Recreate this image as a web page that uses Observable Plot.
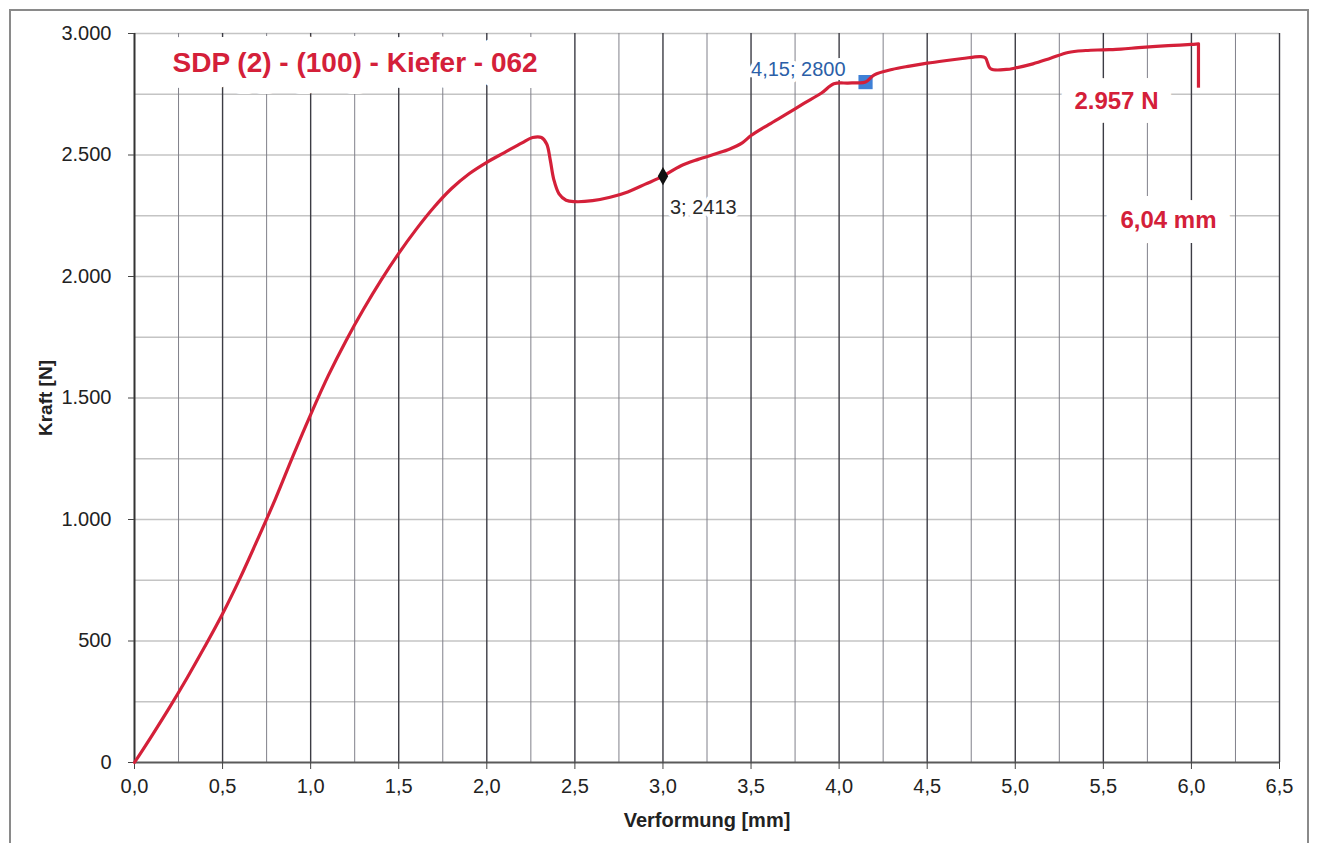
<!DOCTYPE html>
<html lang="de">
<head>
<meta charset="utf-8">
<script src="https://cdn.jsdelivr.net/npm/d3@7"></script>
<script src="https://cdn.jsdelivr.net/npm/@observablehq/plot@0.6"></script>
<style>
  html, body { margin: 0; padding: 0; background: #fff; }
  #page { position: relative; width: 1320px; height: 843px; overflow: hidden; }
  #frame { position: absolute; left: 9px; top: 9px; width: 1300px; height: 900px;
           border: 2px solid #8a8a8a; box-sizing: border-box; }
  #chart { position: absolute; left: 0; top: 0; }
</style>
</head>
<body>
<div id="page">
  <div id="frame"></div>
  <div id="chart"></div>
</div>
<script>
// Kraft-Verformungs-Kurve, Probe SDP (2) - (100) - Kiefer - 062
const title = "SDP (2) - (100) - Kiefer - 062";
const xLabel = "Verformung [mm]";
const yLabel = "Kraft [N]";

// Messkurve: Verformung [mm] und Kraft [N]
const deformation = [0, 0.1, 0.2, 0.3, 0.4, 0.5, 0.6, 0.7, 0.8, 0.9, 1.0, 1.1, 1.2, 1.3, 1.4,
  1.5, 1.6, 1.7, 1.8, 1.9, 2.0, 2.1, 2.2, 2.26, 2.31, 2.34, 2.36, 2.38, 2.41, 2.45, 2.5,
  2.6, 2.7, 2.8, 2.9, 3.0, 3.1, 3.2, 3.3, 3.38, 3.45, 3.5, 3.6, 3.7, 3.8, 3.9, 3.97, 4.05,
  4.1, 4.15, 4.2, 4.3, 4.4, 4.5, 4.6, 4.7, 4.8, 4.83, 4.86, 4.95, 5.0, 5.1, 5.2, 5.3, 5.4,
  5.5, 5.6, 5.7, 5.8, 5.9, 6.0];
const force = [0, 112, 228, 350, 478, 612, 760, 920, 1085, 1262, 1432, 1592, 1735, 1865, 1985,
  2095, 2195, 2285, 2362, 2423, 2470, 2510, 2550, 2572, 2572, 2545, 2480, 2400, 2340, 2314, 2308,
  2312, 2326, 2348, 2380, 2413, 2455, 2482, 2505, 2525, 2550, 2580, 2625, 2668, 2712, 2755, 2793, 2796,
  2797, 2800, 2830, 2852, 2866, 2878, 2888, 2897, 2905, 2900, 2855, 2852, 2858, 2875, 2898, 2922, 2930,
  2933, 2936, 2942, 2947, 2951, 2955];

// Bruch: Höchstkraft und Verformung beim Bruch, danach Kraftabfall
const maxForce = 2957;
const breakDeformation = 6.04;
const forceAfterBreak = 2775;

// markierte Messpunkte
const pointA = {x: 3, y: 2413};
const pointB = {x: 4.15, y: 2800};

// Achsen und Raster
const xTicks = [0, 0.5, 1, 1.5, 2, 2.5, 3, 3.5, 4, 4.5, 5, 5.5, 6, 6.5];
const xMinorGrid = [0.25, 0.75, 1.25, 1.75, 2.25, 2.75, 3.25, 3.75, 4.25, 4.75, 5.25, 5.75, 6.25];
const yTicks = [0, 500, 1000, 1500, 2000, 2500, 3000];
const yGrid = [250, 500, 750, 1000, 1250, 1500, 1750, 2000, 2250, 2500, 2750, 3000];

const de = d3.formatLocale({decimal: ",", thousands: ".", grouping: [3], currency: ["", " €"]});
const fmtInt = de.format(",d");
const fmtDec = (d, n) => de.format(`.${n}f`)(d);

const curve = deformation.map((x, i) => ({x, y: force[i]}));
curve.push({x: breakDeformation, y: maxForce});

const red = "#d42039";
const font = "'Liberation Sans', Arial, sans-serif";

const chart = Plot.plot({
  width: 1320,
  height: 843,
  marginLeft: 134,
  marginRight: 41,
  marginTop: 33,
  marginBottom: 81,
  x: {domain: [0, 6.5]},
  y: {domain: [0, 3000]},
  style: {fontFamily: font, fontSize: "20px", color: "#222", background: "transparent", overflow: "visible"},
  marks: [
    Plot.gridY(yGrid, {stroke: "#c4c4c4", strokeOpacity: 1, strokeWidth: 1.6}),
    Plot.gridX(xMinorGrid, {stroke: "#80808a", strokeOpacity: 1, strokeWidth: 1}),
    Plot.gridX(xTicks.slice(1), {stroke: "#3c3c44", strokeOpacity: 1, strokeWidth: 1.4}),
    Plot.ruleY([0], {stroke: "#5a5a5a", strokeWidth: 2}),
    Plot.ruleX([0], {stroke: "#333", strokeWidth: 2}),
    Plot.axisX(xTicks, {tickFormat: d => fmtDec(d, 1), tickSize: 7, tickPadding: 9,
      label: null, fontSize: 20, stroke: "#444"}),
    Plot.axisY(yTicks, {tickFormat: fmtInt, tickSize: 6, tickPadding: 17,
      label: null, fontSize: 20, stroke: "#444"}),
    Plot.text([yLabel], {frameAnchor: "left", dx: -89, rotate: -90, fontWeight: "bold",
      fontSize: 19, fill: "#222", textAnchor: "middle", lineAnchor: "middle"}),
    Plot.text([xLabel], {frameAnchor: "bottom", dy: 58, fontWeight: "bold",
      fontSize: 20, fill: "#222", textAnchor: "middle", lineAnchor: "middle"}),
    // Probenbezeichnung auf weißem Grund
    Plot.text([title], {frameAnchor: "top-left", dx: 38, dy: 19, textAnchor: "start",
      lineAnchor: "top", fontSize: 28, fontWeight: "bold", fill: red,
      stroke: "white", strokeWidth: 32, strokeLinejoin: "round", paintOrder: "stroke"}),
    // Höchstkraft und Bruchverformung
    Plot.text([{x: breakDeformation, y: maxForce}], {x: "x", y: "y",
      text: d => `${fmtInt(d.y)} N`, dx: -40, dy: 57, textAnchor: "end", lineAnchor: "middle",
      fontSize: 24, fontWeight: "bold", fill: red,
      stroke: "white", strokeWidth: 28, strokeLinejoin: "round", paintOrder: "stroke"}),
    Plot.text([{x: breakDeformation, y: maxForce}], {x: "x", y: "y",
      text: d => `${fmtDec(d.x, 2)} mm`, dx: -78, dy: 176, textAnchor: "start", lineAnchor: "middle",
      fontSize: 24, fontWeight: "bold", fill: red,
      stroke: "white", strokeWidth: 30, strokeLinejoin: "round", paintOrder: "stroke"}),
    // Beschriftung der markierten Punkte
    Plot.text([pointA], {x: "x", y: "y", text: d => `${d.x}; ${d.y}`, dx: 7, dy: 31,
      textAnchor: "start", lineAnchor: "middle", fontSize: 20, fill: "#2a2a2a",
      stroke: "white", strokeWidth: 8, strokeLinejoin: "round", paintOrder: "stroke"}),
    Plot.text([pointB], {x: "x", y: "y", text: d => `${fmtDec(d.x, 2)}; ${d.y}`, dx: -20, dy: -13,
      textAnchor: "end", lineAnchor: "middle", fontSize: 20, fill: "#2b5fa8",
      stroke: "white", strokeWidth: 8, strokeLinejoin: "round", paintOrder: "stroke"}),
    Plot.dot([pointB], {x: "x", y: "y", symbol: "square", r: 8, fill: "#3f80d6"}),
    Plot.line(curve, {x: "x", y: "y", curve: "catmull-rom", stroke: red, strokeWidth: 3.2,
      strokeLinejoin: "round"}),
    // Kraftabfall beim Bruch
    Plot.ruleX([breakDeformation], {y1: maxForce, y2: forceAfterBreak, stroke: red, strokeWidth: 3.2}),
    Plot.dot([pointA], {x: "x", y: "y", symbol: "diamond", r: 5.5, fill: "#111"})
  ]
});

document.getElementById("chart").appendChild(chart);
</script>
</body>
</html>
